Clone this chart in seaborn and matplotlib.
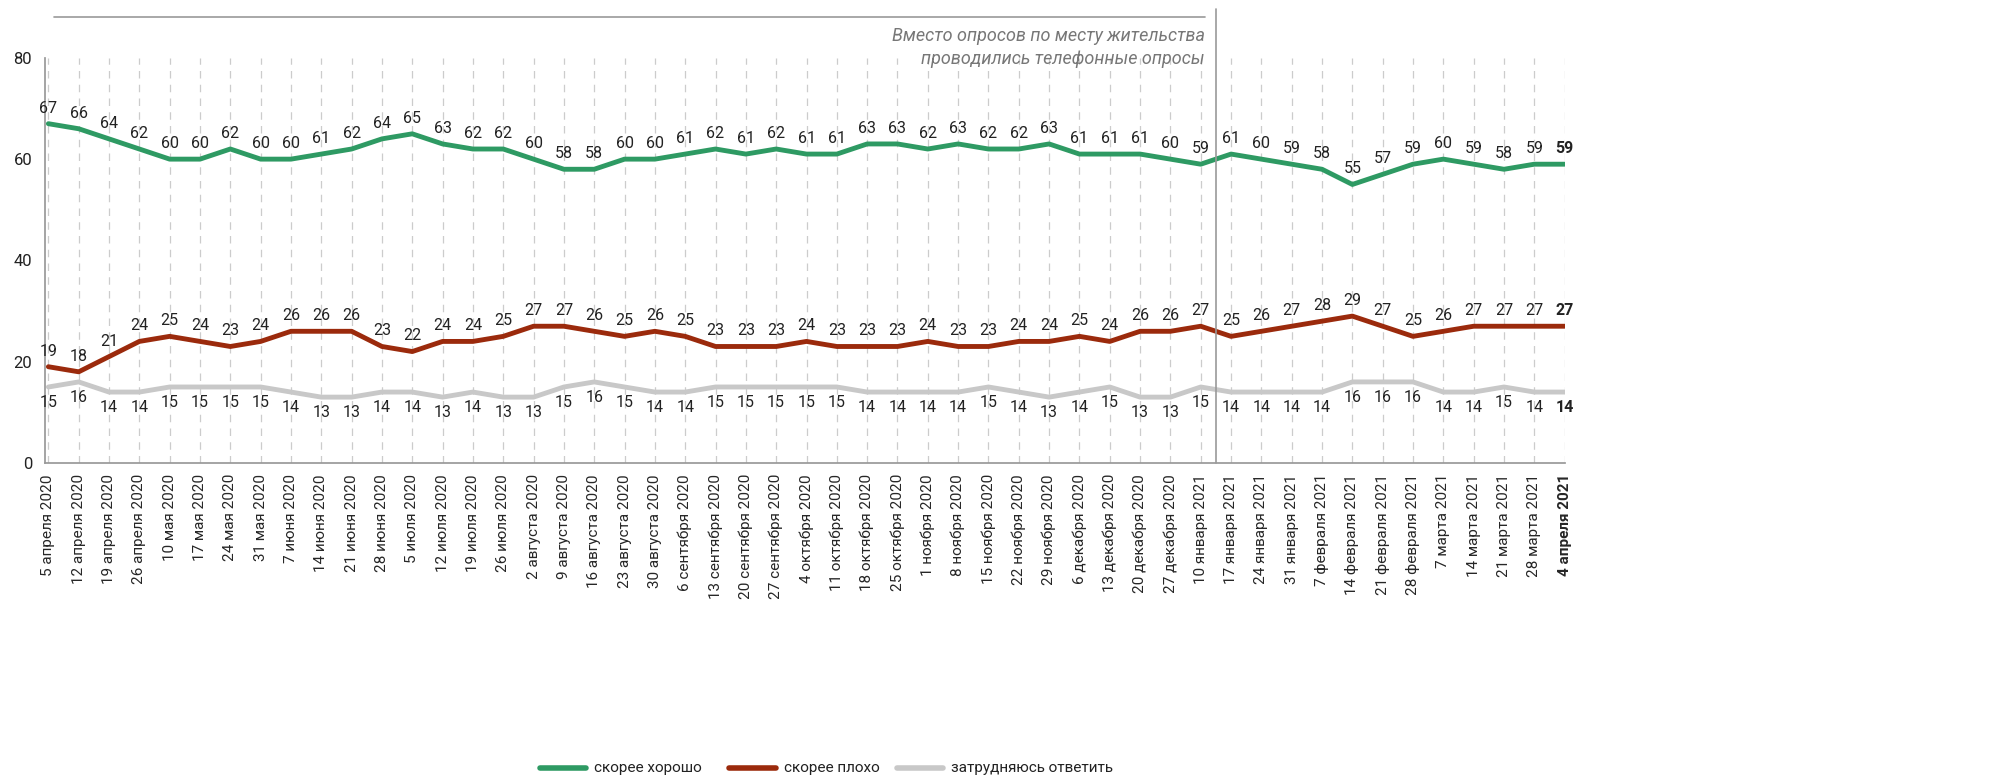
import matplotlib
matplotlib.use('agg')
import matplotlib.pyplot as plt
import seaborn as sns
import pandas as pd
import numpy as np

sns.set_theme(style='white')
plt.rcParams['font.family'] = ['Roboto', 'DejaVu Sans']

dates = ['5 апреля 2020', '12 апреля 2020', '19 апреля 2020', '26 апреля 2020', '10 мая 2020', '17 мая 2020',
         '24 мая 2020', '31 мая 2020', '7 июня 2020', '14 июня 2020', '21 июня 2020', '28 июня 2020',
         '5 июля 2020', '12 июля 2020', '19 июля 2020', '26 июля 2020', '2 августа 2020', '9 августа 2020',
         '16 августа 2020', '23 августа 2020', '30 августа 2020', '6 сентября 2020', '13 сентября 2020',
         '20 сентября 2020', '27 сентября 2020', '4 октября 2020', '11 октября 2020', '18 октября 2020',
         '25 октября 2020', '1 ноября 2020', '8 ноября 2020', '15 ноября 2020', '22 ноября 2020',
         '29 ноября 2020', '6 декабря 2020', '13 декабря 2020', '20 декабря 2020', '27 декабря 2020',
         '10 января 2021', '17 января 2021', '24 января 2021', '31 января 2021', '7 февраля 2021',
         '14 февраля 2021', '21 февраля 2021', '28 февраля 2021', '7 марта 2021', '14 марта 2021',
         '21 марта 2021', '28 марта 2021', '4 апреля 2021']
good = [67, 66, 64, 62, 60, 60, 62, 60, 60, 61, 62, 64, 65, 63, 62, 62, 60, 58, 58, 60, 60, 61, 62, 61, 62,
        61, 61, 63, 63, 62, 63, 62, 62, 63, 61, 61, 61, 60, 59, 61, 60, 59, 58, 55, 57, 59, 60, 59, 58, 59, 59]
bad = [19, 18, 21, 24, 25, 24, 23, 24, 26, 26, 26, 23, 22, 24, 24, 25, 27, 27, 26, 25, 26, 25, 23, 23, 23,
       24, 23, 23, 23, 24, 23, 23, 24, 24, 25, 24, 26, 26, 27, 25, 26, 27, 28, 29, 27, 25, 26, 27, 27, 27, 27]
hard = [15, 16, 14, 14, 15, 15, 15, 15, 14, 13, 13, 14, 14, 13, 14, 13, 13, 15, 16, 15, 14, 14, 15, 15, 15,
        15, 15, 14, 14, 14, 14, 15, 14, 13, 14, 15, 13, 13, 15, 14, 14, 14, 14, 16, 16, 16, 14, 14, 15, 14, 14]

series = {'скорее хорошо': good, 'скорее плохо': bad, 'затрудняюсь ответить': hard}
colors = {'скорее хорошо': '#2e9a63', 'скорее плохо': '#9b2a0c', 'затрудняюсь ответить': '#c8c8c8'}

df = pd.DataFrame([(i, v, k) for k, vals in series.items() for i, v in enumerate(vals)],
                  columns=['x', 'value', 'series'])

fig = plt.figure(figsize=(20.15, 7.82), dpi=100)
ax = fig.add_axes([0.0225, 0.408, 0.754, 0.518])
n = len(dates)
for i in range(n):
    ax.axvline(i, color='#cccccc', linewidth=0.9, linestyle=(0, (6, 5)), zorder=0)
sns.lineplot(data=df, x='x', y='value', hue='series', palette=colors, linewidth=3.5, ax=ax, legend=False)

for k, vals in series.items():
    for i, v in enumerate(vals):
        above = k != 'затрудняюсь ответить'
        ax.text(i, v + (1.6 if above else -1.6), str(v), ha='center', va='bottom' if above else 'top',
                fontsize=11.5, color='#222222', clip_on=False,
                fontweight='bold' if i == n - 1 else 'normal')

ax.set_xlim(-0.1, n - 1)
ax.set_ylim(0, 80)
ax.set_yticks([0, 20, 40, 60, 80])
ax.tick_params(axis='y', labelsize=12, colors='#222222')
ax.set_xticks(range(n))
ax.set_xticklabels(dates, rotation=90, fontsize=11)
for i, lbl in enumerate(ax.get_xticklabels()):
    if i == n - 1:
        lbl.set_fontweight('bold')
ax.tick_params(axis='x', length=4, color='#888888', pad=4)
ax.set_xlabel('')
ax.set_ylabel('')
for s in ['top', 'right']:
    ax.spines[s].set_visible(False)
ax.spines['left'].set_color('#999999')
ax.spines['bottom'].set_color('#999999')

# separator between survey methods
ax.axvline(38.5, ymin=0, ymax=1.12, color='#999999', linewidth=1.2, clip_on=False)
fig.add_artist(plt.Line2D([0.027, 0.598], [0.978, 0.978], color='#999999', linewidth=1.2))
fig.text(0.598, 0.965, 'Вместо опросов по месту жительства\nпроводились телефонные опросы',
         ha='right', va='top', fontsize=13, style='italic', color='#777777', linespacing=1.3)

# legend
lx = [0.268, 0.362, 0.445]
for x0, (k, c) in zip(lx, colors.items()):
    fig.add_artist(plt.Line2D([x0, x0 + 0.023], [0.018, 0.018], color=c, linewidth=4))
    fig.text(x0 + 0.027, 0.018, k, ha='left', va='center', fontsize=11, color='#222222')

fig.savefig('out.png', dpi=100)
